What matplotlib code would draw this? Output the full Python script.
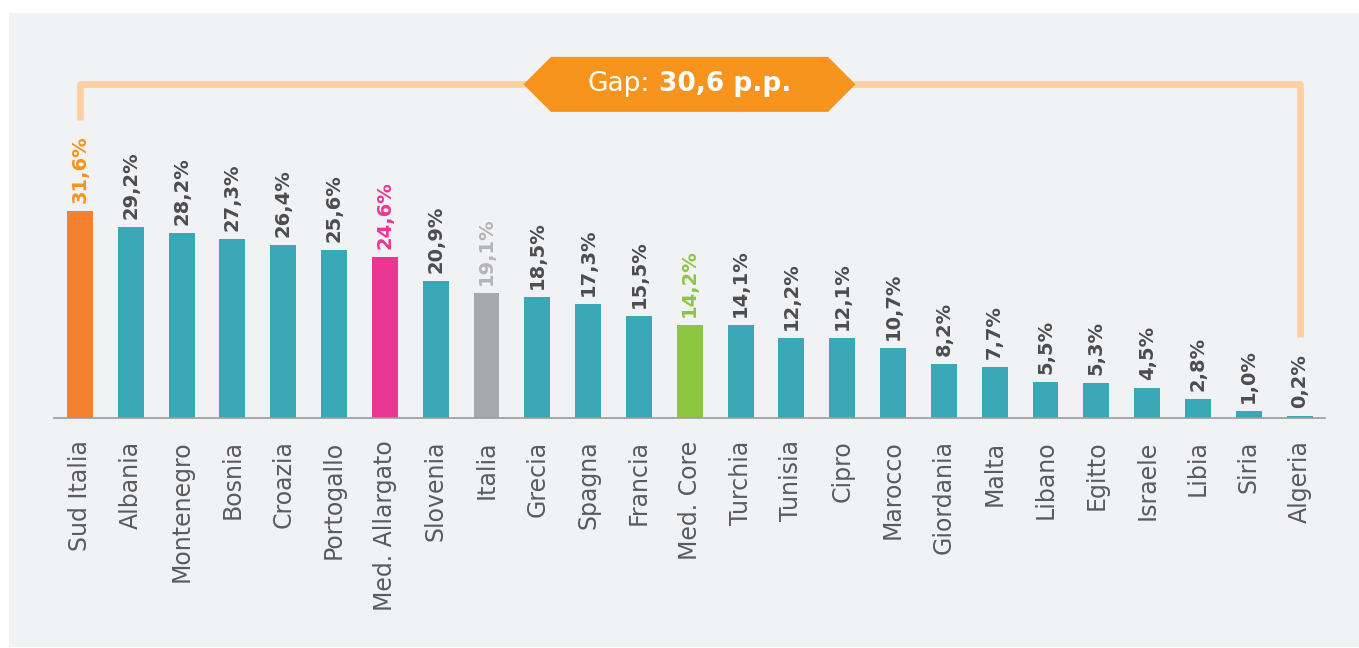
import matplotlib.pyplot as plt
from matplotlib.patches import Rectangle, Polygon
from matplotlib.transforms import IdentityTransform

# data
countries = ["Sud Italia", "Albania", "Montenegro", "Bosnia", "Croazia", "Portogallo",
             "Med. Allargato", "Slovenia", "Italia", "Grecia", "Spagna", "Francia",
             "Med. Core", "Turchia", "Tunisia", "Cipro", "Marocco", "Giordania", "Malta",
             "Libano", "Egitto", "Israele", "Libia", "Siria", "Algeria"]
values = [31.6, 29.2, 28.2, 27.3, 26.4, 25.6, 24.6, 20.9, 19.1, 18.5, 17.3, 15.5,
          14.2, 14.1, 12.2, 12.1, 10.7, 8.2, 7.7, 5.5, 5.3, 4.5, 2.8, 1.0, 0.2]
gap_pp = 30.6  # as printed in the source chart

TEAL = "#3AA8B7"
TEXT_DARK = "#4D4D4F"
TEXT_CAT = "#5B5B5D"
BG = "#F1F2F4"
# (bar colour, label colour) for the highlighted bars
highlights = {
    "Sud Italia": ("#F3812F", "#F7941D"),
    "Med. Allargato": ("#EC3694", "#EC3694"),
    "Italia": ("#A7A8AA", "#B5B5B7"),
    "Med. Core": ("#8DC63F", "#8DC63F"),
}

W, H, DPI = 1359, 648, 100
fig = plt.figure(figsize=(W / DPI, H / DPI), dpi=DPI, facecolor="white")
fig.patches.append(Rectangle((9 / W, 1 / H), 1 - 9 / W, 634 / H,
                             transform=fig.transFigure, facecolor=BG, edgecolor="none",
                             zorder=-10))

ax = fig.add_axes([54 / W, 230.5 / H, 1271 / W, 404.5 / H])
ax.set_facecolor("none")

x = list(range(len(countries)))
bar_colors = [highlights.get(c, (TEAL, TEXT_DARK))[0] for c in countries]
ax.bar(x, values, width=0.51, color=bar_colors, zorder=2)

ax.set_xlim(-0.51, len(countries) - 0.5)
ax.set_ylim(0, 61.9)

labels = []
for i, (c, v) in enumerate(zip(countries, values)):
    col = highlights.get(c, (TEAL, TEXT_DARK))[1]
    t = ax.annotate(f"{v:.1f}%".replace(".", ","), (i, v), xytext=(0, 8),
                    textcoords="offset pixels", rotation=90, ha="center", va="bottom",
                    fontsize=14, fontweight="bold", color=col)
    labels.append(t)

ax.set_xticks(x)
ax.set_xticklabels(countries, rotation=90, fontsize=17, color=TEXT_CAT)
ax.tick_params(axis="x", length=0, pad=16.5)
ax.tick_params(axis="y", left=False, labelleft=False)
for s in ["top", "left", "right"]:
    ax.spines[s].set_visible(False)
ax.spines["bottom"].set_color("#9B9B9B")
ax.spines["bottom"].set_linewidth(1.2)

# bracket from the highest to the lowest value
fig.canvas.draw()
inv = ax.transData.inverted()
top_first = labels[0].get_window_extent().y1
top_last = labels[-1].get_window_extent().y1
bracket_disp = top_first + 51
y_br = inv.transform((0, bracket_disp))[1]
y_left = inv.transform((0, top_first + 15))[1]
y_right = inv.transform((0, top_last + 17))[1]
i_last = len(countries) - 1
ax.plot([0, 0, i_last, i_last], [y_left, y_br, y_br, y_right], color="#FDD09F",
        lw=4.8, solid_joinstyle="round", solid_capstyle="butt", clip_on=False, zorder=3)

# gap label box
cx = ax.transAxes.transform((0.5, 0))[0]
cy = bracket_disp
body, tip, hh = 138.5, 166, 27.5
box = Polygon([(cx - tip, cy), (cx - body, cy + hh), (cx + body, cy + hh),
               (cx + tip, cy), (cx + body, cy - hh), (cx - body, cy - hh)],
              closed=True, transform=IdentityTransform(), facecolor="#F7941D",
              edgecolor="none", zorder=4, clip_on=False)
ax.add_patch(box)

t1 = ax.text(0, 0, "Gap:", fontsize=19, color="white", transform=IdentityTransform(),
             va="center", zorder=5, clip_on=False)
t2 = ax.text(0, 0, f"{gap_pp:.1f} p.p.".replace(".", ",", 1), fontsize=19,
             fontweight="bold", color="white", transform=IdentityTransform(),
             va="center", zorder=5, clip_on=False)
fig.canvas.draw()
w1 = t1.get_window_extent().width
w2 = t2.get_window_extent().width
space = 9
x0 = cx - (w1 + space + w2) / 2
t1.set_position((x0, cy))
t2.set_position((x0 + w1 + space, cy))

fig.savefig("out.png", dpi=DPI, facecolor="white")
